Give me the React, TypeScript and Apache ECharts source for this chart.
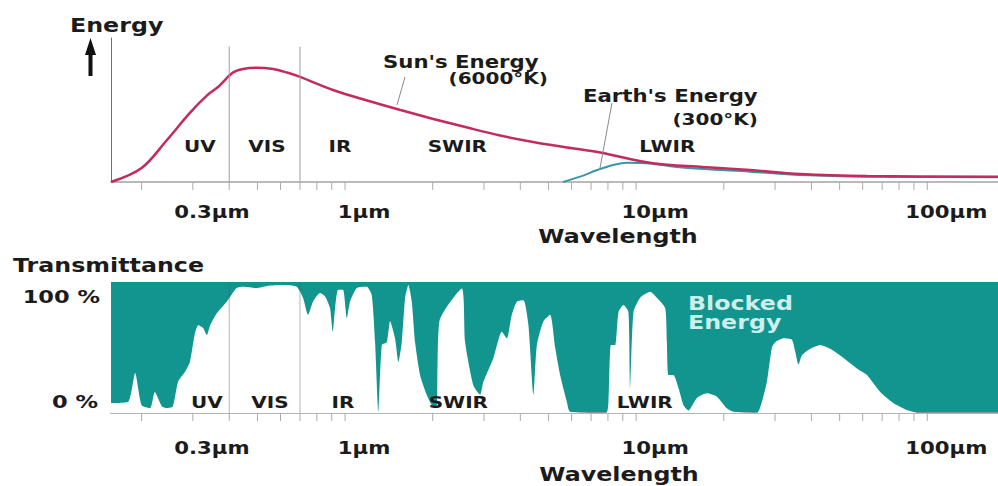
import React, { useEffect, useRef } from "react";
import * as echarts from "echarts";

// Wavelength range of both panels, in micrometres
const minWavelength = 0.157;
const maxWavelength = 175;

// Sun's (6000°K) emitted energy, relative units
const sunWavelength = [0.157, 0.2, 0.244, 0.293, 0.335, 0.366, 0.412, 0.446, 0.498, 0.566, 0.632, 0.7, 0.909, 1.19, 1.55, 2.01, 2.63, 3.41, 4.43, 5.79, 7.52, 11.4, 17.0, 24.6, 36.6, 62.2, 175];
const sunEnergy = [0, 9.7, 29, 48, 60, 66, 76, 78.5, 79.4, 78.5, 76, 73, 63.9, 56.6, 50, 43.8, 37.8, 32.3, 27.8, 24, 20.5, 13, 10.4, 8.3, 5.6, 4.2, 3.7];

// Earth's (300°K) emitted energy, relative units
const earthWavelength = [5.61, 6.42, 7.35, 8.34, 9.31, 10.9, 13.1, 17.0, 24.6, 36.6, 62.2, 175];
const earthEnergy = [0, 3.7, 8.3, 11.8, 13.4, 13, 11, 9, 7.2, 4.9, 3.7, 3.3];

// Atmospheric transmittance, percent
const transWavelength = [
  0.157, 0.18, 0.19, 0.2, 0.214, 0.222, 0.235, 0.244, 0.256, 0.267,
  0.282, 0.293, 0.305, 0.313, 0.325, 0.335, 0.344, 0.362, 0.392, 0.424,
  0.446, 0.497, 0.538, 0.612, 0.682, 0.717, 0.746, 0.776, 0.82, 0.854,
  0.888, 0.907, 0.924, 0.946, 0.984, 1.014, 1.04, 1.097, 1.187, 1.235,
  1.268, 1.301, 1.337, 1.391, 1.428, 1.485, 1.525, 1.566, 1.608, 1.65,
  1.695, 1.74, 1.81, 1.909, 2.011, 2.066, 2.109, 2.518, 2.585, 2.76,
  2.91, 2.988, 3.234, 3.455, 3.594, 3.739, 3.891, 4.101, 4.265, 4.437,
  4.559, 4.802, 5.065, 5.268, 5.481, 5.779, 5.932, 7.886, 8.031, 8.186,
  8.469, 8.694, 9.045, 9.409, 9.536, 9.788, 10.32, 11.17, 11.78, 12.58,
  12.75, 12.91, 13.43, 13.98, 14.54, 15.12, 16.17, 17.5, 18.94, 20.5,
  21.6, 25.99, 27.04, 28.13, 29.27, 30.04, 32.08, 34.28, 35.19, 36.12,
  37.11, 39.62, 42.88, 46.42, 51.58, 57.33, 62.06, 68.96, 76.59, 85.17,
  93.35, 175,
];
const transPercent = [
  7.6, 8.6, 30.5, 6, 3.8, 16, 5, 3.8, 5, 24,
  31.5, 39, 61, 67, 65, 59.5, 67, 76, 85, 95.5,
  96.4, 95.4, 97, 97.7, 96.4, 88, 75, 85, 91.6, 89,
  80, 62, 80, 94, 94, 72.5, 85, 95.4, 96.4, 90,
  54, 1, 52, 54, 70, 57, 39, 54, 88, 97.7,
  85, 54, 29, 13.7, 5, 5, 70, 95, 54, 21,
  14, 24, 42, 62, 57, 75, 85, 86, 67, 14,
  52, 70, 75, 50, 29, 8.6, 1, 0, 8.6, 52,
  52, 77, 82.4, 77, 19, 77, 88, 92.6, 88, 80,
  54, 29, 29, 19, 6, 2, 11.5, 15, 12.5, 3.6,
  1, 0, 8.6, 24, 50, 54, 57, 56, 47, 37,
  44, 49, 52, 49, 42, 34, 29, 16, 7.4, 2.3,
  0, 0,
];

// Axis ticks and labels
const tickWavelengths = [0.2, 0.3, 0.4, 0.5, 0.6, 0.7, 0.8, 0.9, 1, 2, 3, 4, 5, 6, 7, 8, 9, 10, 20, 30, 40, 50, 60, 70, 80, 90, 100];
const labelWavelengths = [0.3, 1, 10, 100];
const labelTexts = ["0.3μm", "1μm", "10μm", "100μm"];

// Spectral bands
const bandEdges = [0.4, 0.7];
const bandNames = ["UV", "VIS", "IR", "SWIR", "LWIR"];
const energyBandAt = [0.317, 0.539, 0.961, 2.43, 12.8];
const transBandAt = [0.335, 0.552, 0.984, 2.45, 10.7];

const FONT = '"DejaVu Sans", "Liberation Sans", Arial, sans-serif';
const WIDE = 1.25;
const INK = "#1b1b1b";
const TEAL = "#12948f";

const lg = (w: number) => Math.log10(w);

function txt(text: string, x: number, y: number, size: number, align: string, fill = INK) {
  return {
    type: "text",
    x,
    y,
    scaleX: WIDE,
    z: 20,
    silent: true,
    style: {
      text,
      font: `bold ${size}px ${FONT}`,
      fill,
      textAlign: align,
      align,
      textVerticalAlign: "middle",
      verticalAlign: "middle",
    },
  };
}

function tickSeries(axis: number) {
  return {
    type: "custom",
    xAxisIndex: axis,
    yAxisIndex: axis,
    silent: true,
    clip: false,
    z: 5,
    data: tickWavelengths.map((w) => [lg(w), 0]),
    renderItem: (_params: any, api: any) => {
      const p = api.coord([api.value(0), 0]);
      return {
        type: "line",
        shape: { x1: p[0], y1: p[1], x2: p[0], y2: p[1] + 8 },
        style: { stroke: "#ababab", lineWidth: 1 },
      };
    },
  };
}

function tickLabelSeries(axis: number, dy: number) {
  return {
    type: "custom",
    xAxisIndex: axis,
    yAxisIndex: axis,
    silent: true,
    clip: false,
    z: 5,
    data: labelWavelengths.map((w) => [lg(w), 0]),
    renderItem: (params: any, api: any) => {
      const p = api.coord([api.value(0), 0]);
      return {
        type: "text",
        x: p[0] + 19,
        y: p[1] + dy,
        scaleX: WIDE,
        style: {
          text: labelTexts[params.dataIndex],
          font: `bold 17px ${FONT}`,
          fill: INK,
          textAlign: "center",
          align: "center",
          textVerticalAlign: "middle",
          verticalAlign: "middle",
        },
      };
    },
  };
}

function edgeSeries(axis: number, top: number, stroke: string) {
  return {
    type: "custom",
    xAxisIndex: axis,
    yAxisIndex: axis,
    silent: true,
    z: 4,
    data: bandEdges.map((w) => [lg(w), 0]),
    renderItem: (_params: any, api: any) => {
      const a = api.coord([api.value(0), 0]);
      const b = api.coord([api.value(0), top]);
      return {
        type: "line",
        shape: { x1: a[0], y1: a[1], x2: b[0], y2: b[1] },
        style: { stroke, lineWidth: 1 },
      };
    },
  };
}

function bandLabelSeries(axis: number, positions: number[], level: number) {
  return {
    type: "custom",
    xAxisIndex: axis,
    yAxisIndex: axis,
    silent: true,
    clip: false,
    z: 6,
    data: positions.map((w) => [lg(w), level]),
    renderItem: (params: any, api: any) => {
      const p = api.coord([api.value(0), api.value(1)]);
      return {
        type: "text",
        x: p[0],
        y: p[1],
        scaleX: WIDE,
        style: {
          text: bandNames[params.dataIndex],
          font: `bold 16px ${FONT}`,
          fill: INK,
          textAlign: "center",
          align: "center",
          textVerticalAlign: "middle",
          verticalAlign: "middle",
        },
      };
    },
  };
}

export default function App() {
  const ref = useRef<HTMLDivElement>(null);

  useEffect(() => {
    if (!ref.current) return;
    const chart = echarts.init(ref.current, undefined, { renderer: "svg" });

    const xAxisBase = {
      type: "value",
      min: lg(minWavelength),
      max: lg(maxWavelength),
      axisLabel: { show: false },
      axisTick: { show: false },
      splitLine: { show: false },
    };

    const option: any = {
      animation: false,
      backgroundColor: "#ffffff",
      grid: [
        { left: 111, right: 0, top: 38, height: 144 },
        { left: 111, right: 0, top: 282, height: 131, show: true, backgroundColor: TEAL, borderWidth: 0 },
      ],
      xAxis: [
        { ...xAxisBase, gridIndex: 0, axisLine: { show: true, lineStyle: { color: "#a3a3a3", width: 1.5 } } },
        { ...xAxisBase, gridIndex: 1, axisLine: { show: true, lineStyle: { color: "#9c9c9c", width: 1.5 } } },
      ],
      yAxis: [
        {
          type: "value",
          gridIndex: 0,
          min: 0,
          max: 100,
          axisLine: { show: true, onZero: false, lineStyle: { color: "#707070", width: 1 } },
          axisTick: { show: false },
          axisLabel: { show: false },
          splitLine: { show: false },
        },
        {
          type: "value",
          gridIndex: 1,
          min: 0,
          max: 100,
          axisLine: { show: false },
          axisTick: { show: false },
          axisLabel: { show: false },
          splitLine: { show: false },
        },
      ],
      series: [
        edgeSeries(0, 94, "#9e9e9e"),
        {
          name: "Earth's Energy",
          type: "line",
          xAxisIndex: 0,
          yAxisIndex: 0,
          data: earthWavelength.map((w, i) => [lg(w), earthEnergy[i]]),
          smooth: 0.35,
          showSymbol: false,
          silent: true,
          lineStyle: { color: "#3a95a8", width: 2 },
          z: 3,
        },
        {
          name: "Sun's Energy",
          type: "line",
          xAxisIndex: 0,
          yAxisIndex: 0,
          data: sunWavelength.map((w, i) => [lg(w), sunEnergy[i]]),
          smooth: 0.35,
          showSymbol: false,
          silent: true,
          lineStyle: { color: "#c42b5c", width: 2.5 },
          z: 3,
        },
        {
          name: "Transmittance",
          type: "line",
          xAxisIndex: 1,
          yAxisIndex: 1,
          data: transWavelength.map((w, i) => [lg(w), transPercent[i]]),
          smooth: 0.2,
          showSymbol: false,
          silent: true,
          lineStyle: { width: 0, color: "#ffffff" },
          areaStyle: { color: "#ffffff", opacity: 1 },
          z: 2,
        },
        edgeSeries(1, 100, "rgba(90,90,90,0.45)"),
        tickSeries(0),
        tickSeries(1),
        tickLabelSeries(0, 30),
        tickLabelSeries(1, 35),
        bandLabelSeries(0, energyBandAt, 25),
        bandLabelSeries(1, transBandAt, 8.4),
      ],
      graphic: [
        txt("Energy", 70, 25, 19, "left"),
        {
          type: "polygon",
          z: 20,
          silent: true,
          shape: {
            points: [
              [90.5, 38], [96, 55], [92.5, 55], [92.5, 76],
              [88.5, 76], [88.5, 55], [85, 55],
            ],
          },
          style: { fill: "#111" },
        },
        txt("Sun's Energy", 383, 62, 17, "left"),
        txt("(6000°K)", 548, 78, 16, "right"),
        {
          type: "line",
          z: 20,
          silent: true,
          shape: { x1: 405, y1: 77, x2: 397, y2: 105 },
          style: { stroke: "#8a8a8a", lineWidth: 1 },
        },
        txt("Earth's Energy", 583, 96, 17, "left"),
        txt("(300°K)", 758, 119, 16, "right"),
        {
          type: "line",
          z: 20,
          silent: true,
          shape: { x1: 612, y1: 103, x2: 600, y2: 168 },
          style: { stroke: "#8a8a8a", lineWidth: 1 },
        },
        txt("Wavelength", 618, 236, 19, "center"),
        txt("Transmittance", 13, 265, 19, "left"),
        txt("100 %", 100, 297, 18, "right"),
        txt("0 %", 98, 402, 18, "right"),
        txt("Blocked", 688, 303, 19, "left", "#cdeeea"),
        txt("Energy", 688, 322, 19, "left", "#cdeeea"),
        txt("Wavelength", 619, 474, 19, "center"),
      ],
    };

    chart.setOption(option);
    return () => chart.dispose();
  }, []);

  return (
    <div
      ref={ref}
      style={{ position: "absolute", left: 0, top: 0, width: 998, height: 486, background: "#fff" }}
    />
  );
}
